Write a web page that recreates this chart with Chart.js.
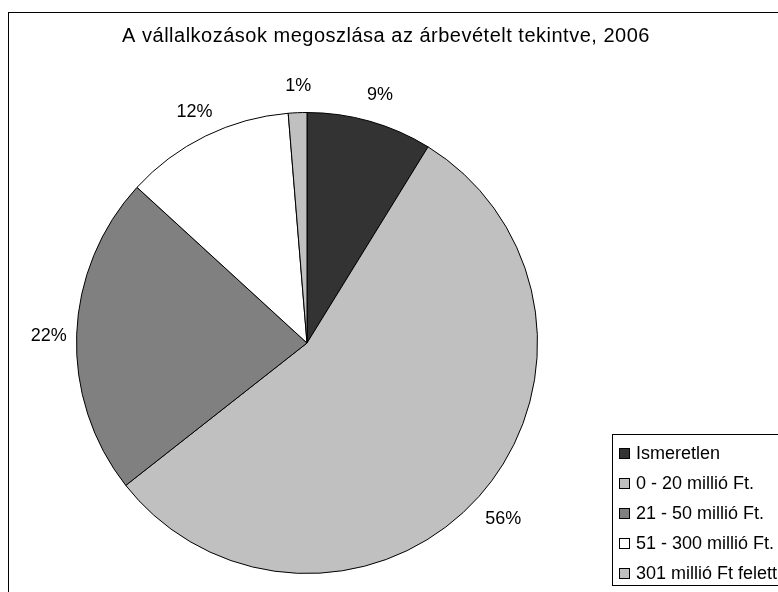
<!DOCTYPE html>
<html>
<head>
<meta charset="utf-8">
<script src="https://cdn.jsdelivr.net/npm/chart.js@4.4.1/dist/chart.umd.min.js"></script>
<style>
  html, body { margin: 0; padding: 0; background: #fff; }
  #wrap { width: 778px; height: 592px; }
</style>
</head>
<body>
<div id="wrap"><canvas id="c" width="778" height="592"></canvas></div>
<script>
const chartTitle = "A vállalkozások megoszlása az árbevételt tekintve, 2006";
const categories = ["Ismeretlen", "0 - 20 millió Ft.", "21 - 50 millió Ft.", "51 - 300 millió Ft.", "301 millió Ft felett"];
const shares = [8.8, 55.6, 22.4, 11.9, 1.3];
const sliceColors = ["#333333", "#C0C0C0", "#808080", "#FFFFFF", "#C0C0C0"];

const FONT = "Arial, 'Liberation Sans', sans-serif";

const decorPlugin = {
  id: "decor",
  beforeDraw(chart) {
    const ctx = chart.ctx;
    ctx.save();
    ctx.fillStyle = "#fff";
    ctx.fillRect(0, 0, chart.width, chart.height);
    ctx.strokeStyle = "#000";
    ctx.lineWidth = 1;
    ctx.strokeRect(8.5, 12.5, 900, 700);
    // title
    ctx.fillStyle = "#000";
    ctx.font = "20px " + FONT;
    ctx.letterSpacing = "0.5px";
    ctx.textAlign = "center";
    ctx.textBaseline = "alphabetic";
    ctx.fillText(chartTitle, 386, 42);
    ctx.restore();
  },
  afterDraw(chart) {
    const ctx = chart.ctx;
    const meta = chart.getDatasetMeta(0);
    const data = chart.data.datasets[0].data;
    const total = data.reduce((a, b) => a + b, 0);
    ctx.save();
    ctx.font = "18px " + FONT;
    ctx.fillStyle = "#000";
    ctx.textBaseline = "middle";
    ctx.textAlign = "center";
    meta.data.forEach((arc, i) => {
      const p = arc.getProps(["x", "y", "startAngle", "endAngle", "outerRadius"], true);
      const mid = (p.startAngle + p.endAngle) / 2;
      const dx = Math.cos(mid), dy = Math.sin(mid);
      const txt = Math.round(data[i] / total * 100) + "%";
      const r = p.outerRadius + 30;
      ctx.fillText(txt, p.x + dx * r + 2, p.y + dy * r + 3);
    });
    // legend
    const lx = 612, ly = 434;
    ctx.strokeStyle = "#000";
    ctx.lineWidth = 1;
    ctx.fillStyle = "#fff";
    ctx.fillRect(lx + 0.5, ly + 0.5, 300, 151);
    ctx.strokeRect(lx + 0.5, ly + 0.5, 300, 151);
    ctx.textAlign = "left";
    ctx.textBaseline = "middle";
    ctx.font = "18px " + FONT;
    chart.data.labels.forEach((lab, i) => {
      const cy = Math.round(ly + 19 + i * 30);
      ctx.fillStyle = chart.data.datasets[0].backgroundColor[i];
      ctx.fillRect(lx + 7.5, cy - 4.5, 10, 10);
      ctx.strokeRect(lx + 7.5, cy - 4.5, 10, 10);
      ctx.fillStyle = "#000";
      ctx.fillText(lab, lx + 24, cy + 1);
    });
    ctx.restore();
  }
};

new Chart(document.getElementById("c"), {
  type: "pie",
  data: {
    labels: categories,
    datasets: [{
      data: shares,
      backgroundColor: sliceColors,
      borderColor: "#000",
      borderWidth: 1
    }]
  },
  options: {
    responsive: false,
    animation: false,
    devicePixelRatio: 1,
    layout: { padding: { left: 76, right: 240, top: 112, bottom: 18 } },
    plugins: {
      legend: { display: false },
      title: { display: false },
      tooltip: { enabled: false }
    }
  },
  plugins: [decorPlugin]
});
</script>
</body>
</html>
